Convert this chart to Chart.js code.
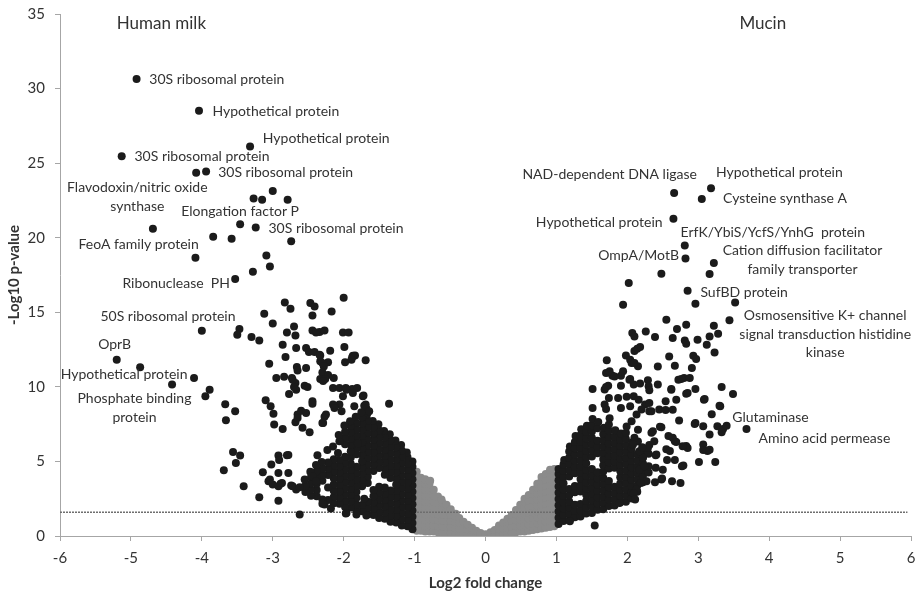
<!DOCTYPE html>
<html>
<head>
<meta charset="utf-8">
<script src="https://cdn.jsdelivr.net/npm/chart.js@4.4.1/dist/chart.umd.min.js"></script>
<style>
  html, body { margin: 0; padding: 0; background: #fff; }
  #volcano { display: block; }
</style>
</head>
<body>
<canvas id="volcano" width="917" height="594"></canvas>
<script>
// axis ranges and tick steps
var xRange = [-6, 6];
var yRange = [0, 35];
var xStep = 1;
var yStep = 5;
var pThreshold = 1.6;

// genes with |log2 FC| < 1 (grey)
var notChanged = [
  [-0.97,0.35],[-0.97,0.75],[-0.97,1.15],[-0.97,1.55],[-0.97,1.95],[-0.97,2.35],[-0.97,2.75],[-0.97,3.15],[-0.97,3.55],[-0.97,3.95],[-0.97,4.3],
  [-0.91,0.35],[-0.91,0.75],[-0.91,1.15],[-0.91,1.55],[-0.91,1.95],[-0.91,2.35],[-0.91,2.75],[-0.91,3.15],[-0.91,3.55],[-0.91,3.9],
  [-0.85,0.3],[-0.85,0.7],[-0.85,1.1],[-0.85,1.5],[-0.85,1.9],[-0.85,2.3],[-0.85,2.7],[-0.85,3.1],[-0.85,3.5],[-0.85,3.8],
  [-0.79,0.3],[-0.79,0.7],[-0.79,1.1],[-0.79,1.5],[-0.79,1.9],[-0.79,2.3],[-0.79,2.7],[-0.79,3.1],[-0.79,3.5],[-0.78,3.7],
  [-0.73,0.3],[-0.73,0.7],[-0.73,1.1],[-0.73,1.5],[-0.73,1.9],[-0.73,2.3],[-0.73,2.7],[-0.73,3.1],
  [-0.67,0.25],[-0.67,0.65],[-0.67,1.05],[-0.67,1.45],[-0.67,1.85],[-0.67,2.25],[-0.67,2.65],
  [-0.61,0.25],[-0.61,0.65],[-0.61,1.05],[-0.61,1.45],[-0.61,1.85],[-0.61,2.25],[-0.62,2.45],
  [-0.55,0.2],[-0.55,0.6],[-0.55,1.0],[-0.55,1.4],[-0.55,1.8],[-0.55,2.1],
  [-0.49,0.2],[-0.49,0.6],[-0.49,1.0],[-0.49,1.4],[-0.49,1.8],
  [-0.43,0.15],[-0.43,0.55],[-0.43,0.95],[-0.43,1.35],[-0.42,1.5],
  [-0.37,0.1],[-0.37,0.5],[-0.37,0.9],[-0.37,1.2],
  [-0.31,0.1],[-0.31,0.5],[-0.31,0.95],
  [-0.25,0.08],[-0.25,0.45],[-0.25,0.75],
  [-0.19,0.05],[-0.19,0.4],[-0.19,0.55],
  [-0.13,0.04],[-0.13,0.35],
  [-0.07,0.02],[-0.07,0.2],
  [0.0,0.01],[0.0,0.12],
  [0.07,0.03],[0.07,0.25],
  [0.13,0.05],[0.13,0.4],
  [0.19,0.08],[0.19,0.45],[0.19,0.7],
  [0.25,0.1],[0.25,0.5],[0.25,0.9],
  [0.31,0.15],[0.31,0.55],[0.31,0.95],[0.31,1.15],
  [0.37,0.2],[0.37,0.6],[0.37,1.0],[0.37,1.4],
  [0.43,0.25],[0.43,0.65],[0.43,1.05],[0.43,1.45],[0.43,1.75],
  [0.49,0.3],[0.49,0.7],[0.49,1.1],[0.49,1.5],[0.49,1.9],[0.49,2.1],
  [0.55,0.3],[0.55,0.7],[0.55,1.1],[0.55,1.5],[0.55,1.9],[0.55,2.3],[0.55,2.5],
  [0.61,0.35],[0.61,0.75],[0.61,1.15],[0.61,1.55],[0.61,1.95],[0.61,2.35],[0.61,2.75],
  [0.67,0.4],[0.67,0.8],[0.67,1.2],[0.67,1.6],[0.67,2.0],[0.67,2.4],[0.67,2.8],[0.67,3.1],
  [0.73,0.45],[0.73,0.85],[0.73,1.25],[0.73,1.65],[0.73,2.05],[0.73,2.45],[0.73,2.85],[0.73,3.25],[0.73,3.5],
  [0.79,0.5],[0.79,0.9],[0.79,1.3],[0.79,1.7],[0.79,2.1],[0.79,2.5],[0.79,2.9],[0.79,3.3],[0.79,3.7],[0.79,3.95],
  [0.85,0.55],[0.85,0.95],[0.85,1.35],[0.85,1.75],[0.85,2.15],[0.85,2.55],[0.85,2.95],[0.85,3.35],[0.85,3.75],[0.85,4.15],
  [0.91,0.6],[0.91,1.0],[0.91,1.4],[0.91,1.8],[0.91,2.2],[0.91,2.6],[0.91,3.0],[0.91,3.4],[0.91,3.8],[0.91,4.2],[0.91,4.45],
  [0.97,0.65],[0.97,1.05],[0.97,1.45],[0.97,1.85],[0.97,2.25],[0.97,2.65],[0.97,3.05],[0.97,3.45],[0.97,3.85],[0.97,4.25],[0.97,4.5]
];

// up in human milk (log2 FC <= -1), scattered genes
var humanMilk = [
  [-4.92,30.64],[-4.04,28.52],[-3.32,26.11],[-5.13,25.46],[-4.08,24.35],[-3.94,24.44],[-3.00,23.14],[-3.27,22.63],[-3.15,22.54],[-2.79,22.54],
  [-4.69,20.6],[-3.46,20.91],[-3.24,20.68],[-3.84,20.06],[-3.58,19.93],[-2.74,19.77],[-4.09,18.65],[-3.09,18.81],[-3.04,18.07],[-3.28,17.72],[-3.53,17.23],[-2.00,15.98],
  [-4.00,13.76],[-5.20,11.82],[-4.87,11.31],[-4.11,10.6],[-4.42,10.15],[-3.89,9.81],[-3.95,9.37],[-3.67,8.83],[-3.53,8.36],[-3.66,7.76],
  [-3.56,5.64],[-3.46,5.39],[-3.52,4.9],[-3.69,4.41],[-3.41,3.34],[-3.19,2.6],[-2.92,2.36],[-2.62,1.44],
  [-3.47,13.88],[-3.50,13.5],[-3.30,13.34],[-3.19,13.1],[-3.12,14.9],[-3.00,14.25],[-2.83,15.66],[-2.75,15.24],[-2.70,14.05],[-2.80,13.65],[-2.68,13.45],
  [-2.47,15.62],[-2.41,15.39],[-2.44,14.79],[-2.17,15.06],[-2.44,13.78],[-2.34,13.68],[-2.27,13.78],[-2.01,13.65],[-1.93,13.65],[-2.39,13.65],
  [-3.05,11.55],[-2.86,12.83],[-2.82,12.0],[-2.67,12.6],[-2.66,11.33],[-2.65,11.1],[-2.53,12.6],[-2.49,12.33],[-2.41,12.33],[-2.53,11.27],[-2.33,12.1],
  [-2.33,11.71],[-2.22,11.65],[-2.19,12.42],[-1.99,12.67],[-1.88,11.98],[-1.98,11.65],[-1.84,12.1],[-1.69,11.78],[-2.34,12.16],[-2.30,11.6],[-2.28,11.37],
  [-1.87,12.09],[-1.89,11.82],
  [-2.30,10.97],[-2.22,10.8],[-2.33,10.53],[-2.26,10.53],[-2.14,10.6],[-2.95,10.6],[-2.84,10.67],[-2.73,10.6],[-2.68,10.26],[-2.55,10.08],[-2.51,9.99],
  [-2.72,10.48],[-2.29,10.4],[-2.70,9.99],[-2.67,9.8],[-2.77,9.52],[-2.44,9.03],[-3.10,9.1],[-3.03,8.7],[-2.99,8.2],[-2.98,7.47],[-2.86,7.18],
  [-2.65,8.14],[-2.60,8.4],[-2.68,7.62],[-2.58,7.25],[-2.48,6.95],[-2.30,7.58],[-2.27,7.99],[-2.15,8.81],[-2.06,8.81],[-2.15,9.93],[-2.06,9.93],
  [-1.97,9.93],[-1.88,9.86],[-1.81,9.93],[-2.01,9.37],[-1.72,9.42],[-1.69,8.81],[-1.36,8.87],[-1.96,9.81],[-1.87,9.59],[-1.73,9.37],
  [-2.44,8.87],[-2.53,8.25],[-2.13,8.7],[-2.65,7.92],[-2.13,8.59],[-2.25,8.14],[-2.29,7.58],[-1.85,8.7],[-1.71,8.74],[-1.64,8.36],[-2.03,8.36],
  [-2.92,5.39],[-2.78,5.43],[-3.02,4.79],[-2.91,5.09],[-3.14,4.27],[-2.92,4.23],[-2.78,4.23],[-3.06,3.67],[-3.00,3.45],[-2.89,3.51],[-2.92,3.34],
  [-2.72,3.34],[-2.67,3.11],[-2.62,3.27],[-2.08,5.57],[-1.80,6.2],[-2.27,2.11],[-2.18,1.84],[-1.97,1.51],[-1.82,1.44],[-1.68,1.37],[-1.71,2.49],
  [-2.80,5.41],[-3.04,3.78],[-2.87,3.56],[-2.74,3.38],[-2.44,4.0],[-2.39,3.67],[-2.37,5.41],[-2.30,2.16],[-1.96,1.55]
];

// up in human milk, crowded block between -2.6 and -1
var humanMilkDense = [
  [-1.03,0.45],[-1.03,0.87],[-1.03,1.29],[-1.03,1.71],[-1.03,2.13],[-1.03,2.55],[-1.03,2.97],[-1.03,3.39],[-1.03,3.81],[-1.03,4.23],[-1.03,4.65],[-1.03,5.0],
  [-1.1,0.66],[-1.1,1.08],[-1.1,1.5],[-1.1,1.92],[-1.1,2.34],[-1.1,2.76],[-1.1,3.18],[-1.1,3.6],[-1.1,4.02],[-1.1,4.44],[-1.1,4.86],[-1.1,5.28],[-1.11,5.6],
  [-1.18,0.7],[-1.18,1.12],[-1.18,1.54],[-1.18,1.96],[-1.18,2.38],[-1.18,2.8],[-1.18,3.22],[-1.18,3.64],[-1.18,4.06],[-1.18,4.48],[-1.18,4.9],[-1.18,5.32],[-1.18,5.74],[-1.19,6.1],
  [-1.26,0.91],[-1.26,1.33],[-1.26,1.75],[-1.26,2.17],[-1.26,2.59],[-1.26,3.01],[-1.26,3.43],[-1.26,3.85],[-1.26,4.27],[-1.26,4.69],[-1.26,5.11],[-1.26,5.53],[-1.26,5.95],[-1.27,6.4],
  [-1.34,0.95],[-1.34,1.37],[-1.34,1.79],[-1.34,2.21],[-1.34,2.63],[-1.34,3.05],[-1.34,3.89],[-1.34,4.31],[-1.34,4.73],[-1.34,5.15],[-1.34,5.57],[-1.34,5.99],[-1.34,6.41],[-1.35,6.83],
  [-1.42,1.16],[-1.42,1.58],[-1.42,2.0],[-1.42,2.42],[-1.42,2.84],[-1.42,3.26],[-1.42,4.1],[-1.42,4.52],[-1.42,4.94],[-1.42,5.36],[-1.42,5.78],[-1.42,6.2],[-1.42,6.62],[-1.43,7.04],
  [-1.5,1.2],[-1.5,1.62],[-1.5,2.04],[-1.5,2.46],[-1.5,2.88],[-1.5,3.3],[-1.5,4.56],[-1.5,4.98],[-1.5,5.4],[-1.5,5.82],[-1.5,6.24],[-1.5,6.66],[-1.5,7.08],[-1.51,7.5],
  [-1.58,1.41],[-1.58,1.83],[-1.58,2.25],[-1.58,2.67],[-1.58,3.09],[-1.58,4.35],[-1.58,4.77],[-1.58,5.19],[-1.58,5.61],[-1.58,6.03],[-1.58,6.45],[-1.58,6.87],[-1.58,7.29],[-1.59,7.71],
  [-1.66,1.45],[-1.66,1.87],[-1.66,2.29],[-1.66,3.55],[-1.66,3.97],[-1.66,4.39],[-1.66,4.81],[-1.66,5.23],[-1.66,5.65],[-1.66,6.07],[-1.66,6.49],[-1.66,6.91],[-1.66,7.33],[-1.66,7.75],[-1.67,8.17],[-1.68,8.55],
  [-1.74,1.66],[-1.74,2.08],[-1.74,3.34],[-1.74,3.76],[-1.74,4.18],[-1.74,4.6],[-1.74,5.02],[-1.74,5.44],[-1.74,5.86],[-1.74,6.28],[-1.74,6.7],[-1.74,7.12],[-1.74,7.54],[-1.74,7.96],[-1.75,8.3],
  [-1.82,1.7],[-1.82,2.12],[-1.82,2.54],[-1.82,2.96],[-1.82,3.38],[-1.82,3.8],[-1.82,4.22],[-1.82,4.64],[-1.82,5.48],[-1.82,5.9],[-1.82,6.32],[-1.82,6.74],[-1.82,7.16],[-1.82,7.58],[-1.83,8.0],
  [-1.9,1.91],[-1.9,2.33],[-1.9,2.75],[-1.9,3.17],[-1.9,3.59],[-1.9,4.01],[-1.9,4.43],[-1.9,4.85],[-1.9,5.27],[-1.9,5.69],[-1.9,6.11],[-1.9,6.53],[-1.9,6.95],[-1.9,7.37],[-1.91,7.7],
  [-1.98,1.95],[-1.98,2.37],[-1.98,2.79],[-1.98,3.21],[-1.98,3.63],[-1.98,4.05],[-1.98,4.47],[-1.98,4.89],[-1.98,5.31],[-1.98,6.15],[-1.98,6.57],[-1.98,6.99],[-1.99,7.41],
  [-2.06,2.16],[-2.06,2.58],[-2.06,3.0],[-2.06,3.42],[-2.06,3.84],[-2.06,4.26],[-2.06,4.68],[-2.06,5.1],[-2.06,6.36],[-2.07,6.78],
  [-2.14,2.2],[-2.14,2.62],[-2.14,3.04],[-2.14,3.46],[-2.14,3.88],[-2.14,4.3],[-2.14,4.72],[-2.14,5.14],[-2.15,6.0],
  [-2.22,2.41],[-2.22,3.25],[-2.22,4.09],[-2.22,4.51],[-2.22,4.93],[-2.23,5.77],
  [-2.3,2.45],[-2.3,3.71],[-2.3,4.13],[-2.3,4.55],[-2.31,4.97],
  [-2.38,2.66],[-2.38,3.08],[-2.38,3.5],[-2.38,3.92],[-2.38,4.34],[-2.39,4.76],
  [-2.46,2.7],[-2.46,3.12],[-2.46,3.54],[-2.46,3.96],[-2.47,4.3],
  [-2.54,2.95],[-2.54,3.37],[-2.55,3.79]
];

// up in mucin (log2 FC >= 1), scattered genes
var mucin = [
  [2.66,22.99],[3.18,23.32],[3.05,22.6],[2.65,21.27],[2.81,19.48],[2.82,18.61],[3.22,18.3],[3.16,17.56],[2.48,17.58],[2.02,16.96],[2.85,16.44],
  [1.94,15.5],[2.96,15.57],[3.52,15.66],[3.44,14.46],[2.55,14.5],[2.83,14.17],[2.70,13.88],[3.22,14.1],[3.28,13.56],[3.16,13.38],
  [2.07,13.61],[2.10,13.38],[2.26,13.72],[2.39,13.34],[2.64,13.27],[2.81,13.1],[2.83,12.89],[2.99,13.16],[3.23,12.31],[3.12,12.83],
  [2.18,12.67],[2.14,12.56],[2.10,12.4],[2.59,12.04],[2.93,12.09],[2.97,11.87],[1.98,12.11],[2.04,11.82],[1.71,11.78],[2.06,11.6],
  [2.15,11.38],[2.43,11.37],[2.67,11.42],[2.91,11.26],[2.10,11.6],
  [1.74,10.97],[1.79,10.75],[1.91,10.75],[2.04,10.53],[2.09,10.15],[2.18,10.22],[2.29,10.44],[2.30,10.04],[2.43,10.15],[2.31,9.77],
  [1.73,10.08],[1.68,9.82],[1.51,9.86],[1.91,10.08],[2.62,9.86],[2.72,10.48],[2.80,10.6],[2.88,10.6],[2.83,9.54],[2.96,9.86],
  [3.33,9.99],[3.49,9.52],[3.08,9.14],[2.69,9.14],[2.54,9.03],[3.31,8.7],[3.19,8.17],[1.70,10.93],[1.75,11.04],[1.82,10.7],[1.94,11.04],
  [1.70,9.99],[2.03,10.48],[2.76,10.53],[2.85,9.59],[2.62,9.81],[3.09,9.19],[3.30,8.74],
  [1.74,9.26],[1.87,9.26],[1.99,9.33],[2.09,9.37],[2.16,9.14],[2.25,8.81],[2.31,8.92],[1.51,8.59],[1.68,8.81],[1.70,8.52],[1.91,8.59],
  [2.04,8.7],[2.20,8.48],[2.31,8.37],[2.45,8.48],[2.54,8.44],[2.34,8.36],[2.64,8.47],[2.13,8.14],[2.06,7.69],[2.15,7.13],
  [3.07,7.36],[2.96,7.58],[2.46,7.32],[2.34,6.92],[2.58,6.7],[2.67,6.36],[2.83,6.03],[3.16,6.81],[3.27,7.36],[3.35,7.18],[3.33,6.95],
  [3.68,7.18],[3.40,7.40],[3.07,6.14],[3.13,5.7],[3.07,5.77],[3.01,4.97],[3.24,4.97],[2.55,5.81],[2.60,5.7],[2.67,5.1],[2.40,5.41],
  [2.56,5.1],[2.79,4.72],[2.48,3.78],[2.39,3.6],[2.27,3.67],[2.19,3.56],[2.63,3.67],[2.75,3.56],[2.13,3.11],[2.09,2.85],[2.11,2.45],
  [1.89,2.22],[1.19,0.99],[1.54,0.70],
  [2.95,7.51],[2.73,7.74],[2.48,7.29],[3.16,5.79],[2.85,5.9],[2.78,6.02],[2.64,6.58],[2.69,6.31],[2.77,4.68],[2.50,4.45],[2.49,3.85],
  [2.40,4.57],[2.41,5.46],[2.38,6.35],[2.17,4.45],[2.24,4.68],[2.22,5.24],[2.17,5.68],[2.29,5.9],[2.21,5.95],[2.36,7.02],[2.10,6.58],[2.08,6.13]
];

// up in mucin, crowded block between 1 and 2.3
var mucinDense = [
  [1.03,0.8],[1.03,1.22],[1.03,1.64],[1.03,2.06],[1.03,2.48],[1.03,2.9],[1.03,3.32],[1.03,3.74],[1.03,4.16],[1.03,4.5],
  [1.1,1.01],[1.1,1.43],[1.1,1.85],[1.1,2.27],[1.1,2.69],[1.1,3.11],[1.1,3.53],[1.1,3.95],[1.1,4.37],[1.1,4.79],[1.11,5.1],
  [1.18,1.05],[1.18,1.47],[1.18,1.89],[1.18,2.31],[1.18,2.73],[1.18,3.15],[1.18,3.99],[1.18,4.41],[1.18,4.83],[1.18,5.25],[1.18,5.67],[1.19,6.0],
  [1.26,1.26],[1.26,1.68],[1.26,2.1],[1.26,2.94],[1.26,3.36],[1.26,4.2],[1.26,4.62],[1.26,5.04],[1.26,5.46],[1.26,5.88],[1.26,6.3],[1.27,6.7],
  [1.34,1.3],[1.34,1.72],[1.34,2.14],[1.34,2.98],[1.34,3.4],[1.34,3.82],[1.34,4.24],[1.34,4.66],[1.34,5.08],[1.34,5.5],[1.34,5.92],[1.34,6.34],[1.34,6.76],[1.35,7.15],
  [1.42,1.51],[1.42,1.93],[1.42,2.35],[1.42,2.77],[1.42,3.19],[1.42,3.61],[1.42,4.03],[1.42,4.45],[1.42,4.87],[1.42,5.29],[1.42,5.71],[1.42,6.13],[1.42,6.55],[1.42,6.97],[1.43,7.4],
  [1.5,1.55],[1.5,1.97],[1.5,2.39],[1.5,2.81],[1.5,3.23],[1.5,3.65],[1.5,4.07],[1.5,4.49],[1.5,5.33],[1.5,5.75],[1.5,6.17],[1.5,6.59],[1.5,7.01],[1.5,7.43],[1.51,7.85],
  [1.58,1.76],[1.58,2.18],[1.58,2.6],[1.58,3.02],[1.58,3.44],[1.58,3.86],[1.58,4.28],[1.58,5.54],[1.58,5.96],[1.58,6.38],[1.58,7.22],[1.59,7.64],
  [1.66,1.8],[1.66,2.22],[1.66,2.64],[1.66,3.06],[1.66,3.48],[1.66,3.9],[1.66,4.32],[1.66,4.74],[1.66,5.16],[1.66,5.58],[1.66,6.0],[1.66,6.42],[1.66,6.84],[1.67,7.26],
  [1.74,2.01],[1.74,2.43],[1.74,2.85],[1.74,3.27],[1.74,3.69],[1.74,4.53],[1.74,4.95],[1.74,5.37],[1.74,5.79],[1.74,6.21],[1.74,6.63],[1.74,7.05],[1.74,7.47],[1.75,7.9],
  [1.82,2.05],[1.82,2.47],[1.82,2.89],[1.82,3.31],[1.82,4.57],[1.82,4.99],[1.82,5.41],[1.82,5.83],[1.82,6.25],[1.82,6.67],[1.83,7.09],
  [1.9,2.26],[1.9,2.68],[1.9,3.1],[1.9,3.52],[1.9,3.94],[1.9,4.36],[1.9,4.78],[1.9,5.2],[1.9,5.62],[1.9,6.04],[1.9,6.46],[1.91,6.88],
  [1.98,2.3],[1.98,2.72],[1.98,3.14],[1.98,3.56],[1.98,3.98],[1.98,4.4],[1.98,4.82],[1.98,5.24],[1.98,5.66],[1.98,6.08],[1.98,6.5],[1.98,6.92],[1.99,7.34],
  [2.06,2.51],[2.06,2.93],[2.06,3.35],[2.06,3.77],[2.06,4.19],[2.06,4.61],[2.06,5.03],[2.06,5.45],[2.06,5.87],[2.07,6.29],
  [2.14,2.97],[2.14,3.39],[2.14,3.81],[2.14,4.23],[2.14,4.65],[2.14,5.07],[2.14,5.49],[2.15,6.33],
  [2.22,3.6],[2.22,4.02],[2.22,4.44],[2.22,4.86],[2.22,5.28],[2.23,5.7],
  [2.3,4.25],[2.3,4.67],[2.3,5.51],[2.31,6.1]
];

// annotations: [text, log2 FC, -log10 p, alignment]
var proteinLabels = [
  ['30S ribosomal protein', -4.74, 30.58, 'left'],
  ['Hypothetical protein', -3.85, 28.45, 'left'],
  ['Hypothetical protein', -3.14, 26.67, 'left'],
  ['30S ribosomal protein', -4.95, 25.44, 'left'],
  ['30S ribosomal protein', -3.77, 24.39, 'left'],
  ['Flavodoxin/nitric oxide', -4.91, 23.39, 'center'],
  ['synthase', -4.91, 22.09, 'center'],
  ['Elongation factor P', -4.29, 21.76, 'left'],
  ['30S ribosomal protein', -3.06, 20.64, 'left'],
  ['FeoA family protein', -5.74, 19.52, 'left'],
  ['Ribonuclease  PH', -5.12, 16.96, 'left'],
  ['50S ribosomal protein', -5.43, 14.72, 'left'],
  ['OprB', -5.23, 12.83, 'center'],
  ['Hypothetical protein', -5.99, 10.82, 'left'],
  ['Phosphate binding', -4.95, 9.19, 'center'],
  ['protein', -4.95, 7.96, 'center'],
  ['NAD-dependent DNA ligase', 0.52, 24.26, 'left'],
  ['Hypothetical protein', 3.25, 24.39, 'left'],
  ['Cysteine synthase A', 3.35, 22.6, 'left'],
  ['Hypothetical protein', 0.71, 21.02, 'left'],
  ['ErfK/YbiS/YcfS/YnhG  protein', 2.75, 20.35, 'left'],
  ['Cation diffusion facilitator', 4.47, 19.14, 'center'],
  ['family transporter', 4.47, 17.9, 'center'],
  ['OmpA/MotB', 1.59, 18.79, 'left'],
  ['SufBD protein', 3.03, 16.36, 'left'],
  ['Osmosensitive K+ channel', 4.79, 14.79, 'center'],
  ['signal transduction histidine', 4.79, 13.54, 'center'],
  ['kinase', 4.79, 12.31, 'center'],
  ['Glutaminase', 3.48, 7.96, 'left'],
  ['Amino acid permease', 3.85, 6.53, 'left']
];

var conditionLabels = [
  ['Human milk', -5.2, 34.37],
  ['Mucin', 3.58, 34.37]
];

function toPoints(list) {
  return list.map(function (p) { return { x: p[0], y: p[1] }; });
}

var FONT = "Lato, 'Open Sans', sans-serif";
var DOT = "#1b1b1b";

var labelPlugin = {
  id: "proteinLabels",
  afterDatasetsDraw: function (chart) {
    var ctx = chart.ctx;
    var xs = chart.scales.x;
    var ys = chart.scales.y;
    ctx.save();
    ctx.fillStyle = "#333";
    ctx.textBaseline = "middle";
    ctx.font = "14px " + FONT;
    proteinLabels.forEach(function (l) {
      ctx.textAlign = l[3];
      ctx.fillText(l[0], xs.getPixelForValue(l[1]), ys.getPixelForValue(l[2]));
    });
    ctx.font = "17px " + FONT;
    ctx.textAlign = "left";
    conditionLabels.forEach(function (l) {
      ctx.fillText(l[0], xs.getPixelForValue(l[1]), ys.getPixelForValue(l[2]));
    });
    ctx.restore();
  }
};

function dotSet(label, list, color, order) {
  return {
    label: label,
    data: toPoints(list),
    backgroundColor: color,
    borderWidth: 0,
    pointRadius: 4,
    order: order
  };
}

var ctx = document.getElementById("volcano").getContext("2d");
var volcano = new Chart(ctx, {
  type: "scatter",
  data: {
    datasets: [
      dotSet("Human milk", humanMilk, DOT, 1),
      dotSet("Human milk (dense)", humanMilkDense, DOT, 1),
      dotSet("Mucin", mucin, DOT, 1),
      dotSet("Mucin (dense)", mucinDense, DOT, 1),
      {
        type: "line",
        label: "threshold",
        data: [{ x: xRange[0], y: pThreshold }, { x: 5.95, y: pThreshold }],
        borderColor: "#6e6e6e",
        borderWidth: 1.5,
        borderDash: [2, 1],
        pointRadius: 0,
        fill: false,
        order: 2
      },
      dotSet("not changed", notChanged, "#8b8b8b", 3)
    ]
  },
  options: {
    responsive: false,
    animation: false,
    devicePixelRatio: 1,
    layout: { padding: { top: 14, right: 6, left: 0, bottom: 0 } },
    plugins: {
      legend: { display: false },
      tooltip: { enabled: false }
    },
    scales: {
      x: {
        type: "linear",
        min: xRange[0],
        max: xRange[1],
        afterFit: function (scale) {
          scale.height = 58;
          scale.paddingLeft = 0;
          scale.paddingRight = 0;
        },
        ticks: {
          stepSize: xStep,
          padding: 8,
          color: "#333",
          font: { family: FONT, size: 15 }
        },
        grid: { drawOnChartArea: false, drawTicks: true, tickLength: 5, color: "#a6a6a6" },
        border: { display: true, color: "#a6a6a6" },
        title: {
          display: true,
          text: "Log2 fold change",
          color: "#333",
          font: { family: FONT, size: 15, weight: "bold" },
          padding: { top: 0, bottom: 2 }
        }
      },
      y: {
        type: "linear",
        min: yRange[0],
        max: yRange[1],
        afterFit: function (scale) {
          scale.width = 60;
          scale.paddingTop = 0;
          scale.paddingBottom = 0;
        },
        ticks: {
          stepSize: yStep,
          padding: 10,
          color: "#333",
          font: { family: FONT, size: 15 }
        },
        grid: { drawOnChartArea: false, drawTicks: true, tickLength: 5, color: "#a6a6a6" },
        border: { display: true, color: "#a6a6a6" },
        title: {
          display: true,
          text: "-Log10 p-value",
          color: "#333",
          font: { family: FONT, size: 15, weight: "bold" },
          padding: { top: 5, bottom: 0 }
        }
      }
    }
  },
  plugins: [labelPlugin]
});
</script>
</body>
</html>
